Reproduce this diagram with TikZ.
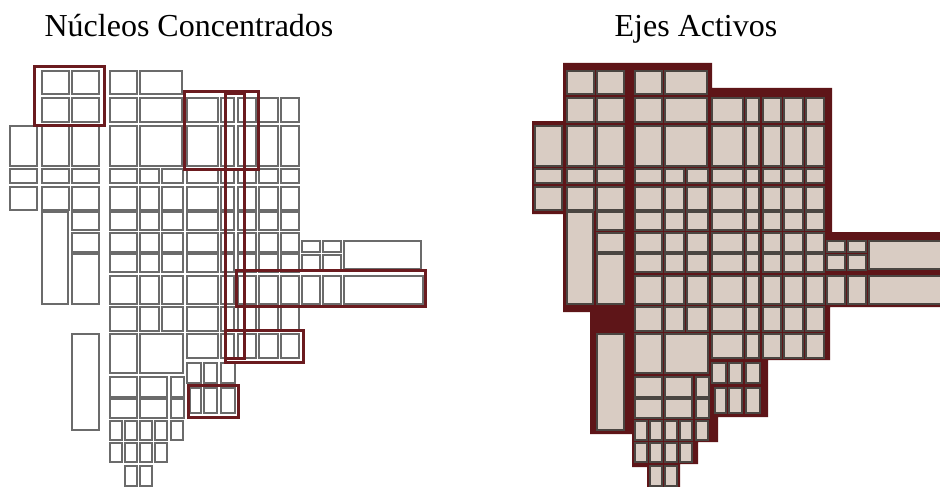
\documentclass[tikz,border=0pt]{standalone}
\usepackage{fontspec}
\setmainfont{Liberation Serif}

\definecolor{vino}{HTML}{6B1B1F}
\definecolor{vinoosc}{HTML}{5E1518}
\definecolor{arena}{HTML}{D9CCC3}
\definecolor{grafito}{HTML}{4A4541}

% one row of blocks: y top, y bottom, list of x-left/x-right
\newcommand{\fila}[3]{%
  \foreach \xa/\xb in {#3} {\draw[manzana] (\xa,#1) rectangle (\xb,#2);}}

% the block plan (pixel units)
\newcommand{\trama}{%
  \fila{71}{94}{42/69,72/99,110/137,140/182}
  \fila{98}{122}{42/69,72/99,110/137,140/182,187/218,221/234,238/256,259/278,281/299}
  \fila{126}{166}{10/37,42/69,72/99,110/137,140/182,187/218,221/234,238/256,259/278,281/299}
  \fila{169}{183}{10/37,42/69,72/99,110/137,140/159,162/183,187/218,221/234,238/256,259/278,281/299}
  \fila{187}{210}{10/37,42/69,72/99,110/137,140/159,162/183,187/218,221/234,238/256,259/278,281/299}
  \fila{212}{230}{72/99,110/137,140/159,162/183,187/218,221/234,238/256,259/278,281/299}
  \fila{233}{252}{72/99,110/137,140/159,162/183,187/218,221/234,238/256,259/278,281/299}
  \fila{241}{252}{302/320,323/341}
  \fila{254}{272}{110/137,140/159,162/183,187/218,221/234,238/256,259/278,281/299}
  \fila{255}{270}{302/320,323/341}
  \fila{276}{304}{110/137,140/159,162/183,187/218,221/234,238/256,259/278,281/299,302/320,323/341,344/423}
  \fila{307}{331}{110/137,140/159,162/183,187/218,221/234,238/256,259/278,281/299}
  \fila{334}{358}{187/218,221/234,238/256,259/278,281/299}
  \fila{334}{373}{110/137,140/183}
  \fila{363}{383}{187/201,204/217,221/235}
  \fila{388}{413}{190/201,204/217,221/235}
  \fila{377}{397}{110/137,140/167,171/184}
  \fila{399}{418}{110/137,140/167,171/184}
  \fila{421}{440}{110/122,125/137,140/152,155/167,171/183}
  \fila{443}{462}{110/122,125/137,140/152,155/167}
  \fila{466}{486}{125/137,140/152}
  % long blocks
  \fila{212}{304}{42/68}
  \fila{254}{304}{72/99}
  \fila{241}{269}{344/421}
  \fila{334}{430}{72/99}
}

\begin{document}
\begin{tikzpicture}[x=1pt,y=-1pt]
    \tikzstyle{manzana}=[draw=black!58, line width=1.1pt]
    \tikzstyle{marco}=[draw=vino, line width=3pt]
    \tikzstyle{titulo}=[font=\fontsize{32}{36}\selectfont, anchor=base, inner sep=0pt]

    \clip (0,0) rectangle (940,487);

    \node[titulo] (nucleos) at (189,37) {Núcleos Concentrados};
    \node[titulo] (ejes) at (696,37) {Ejes Activos};

    % left plan
    \trama
    \draw[marco] (34,67) rectangle (104,125);
    \draw[marco] (184.5,91.5) rectangle (258.5,169.5);
    \draw[marco] (225.5,93.5) rectangle (244.5,358.5);
    \draw[marco] (236.5,270.5) rectangle (425.5,306.5);
    \draw[marco] (225.5,330.5) rectangle (303.5,362.5);
    \draw[marco] (188.5,385.5) rectangle (238.5,417.5);

    % right plan
    \fill[vinoosc] (563,63) -- (712,63) -- (712,88) -- (832,88) -- (832,232)
                   -- (940,232) -- (940,307) -- (830,307) -- (830,360)
                   -- (768,360) -- (768,417) -- (718,417) -- (718,442)
                   -- (698,442) -- (698,464) -- (680,464) -- (680,487)
                   -- (647,487) -- (647,467) -- (632,467) -- (632,434)
                   -- (590,434) -- (590,312) -- (563,312) -- (563,214)
                   -- (532,214) -- (532,121) -- (563,121) -- cycle;
    \begin{scope}[shift={(525,0)}, manzana/.style={fill=arena, draw=grafito, line width=1.4pt}]
        \trama
    \end{scope}

\end{tikzpicture}
\end{document}
